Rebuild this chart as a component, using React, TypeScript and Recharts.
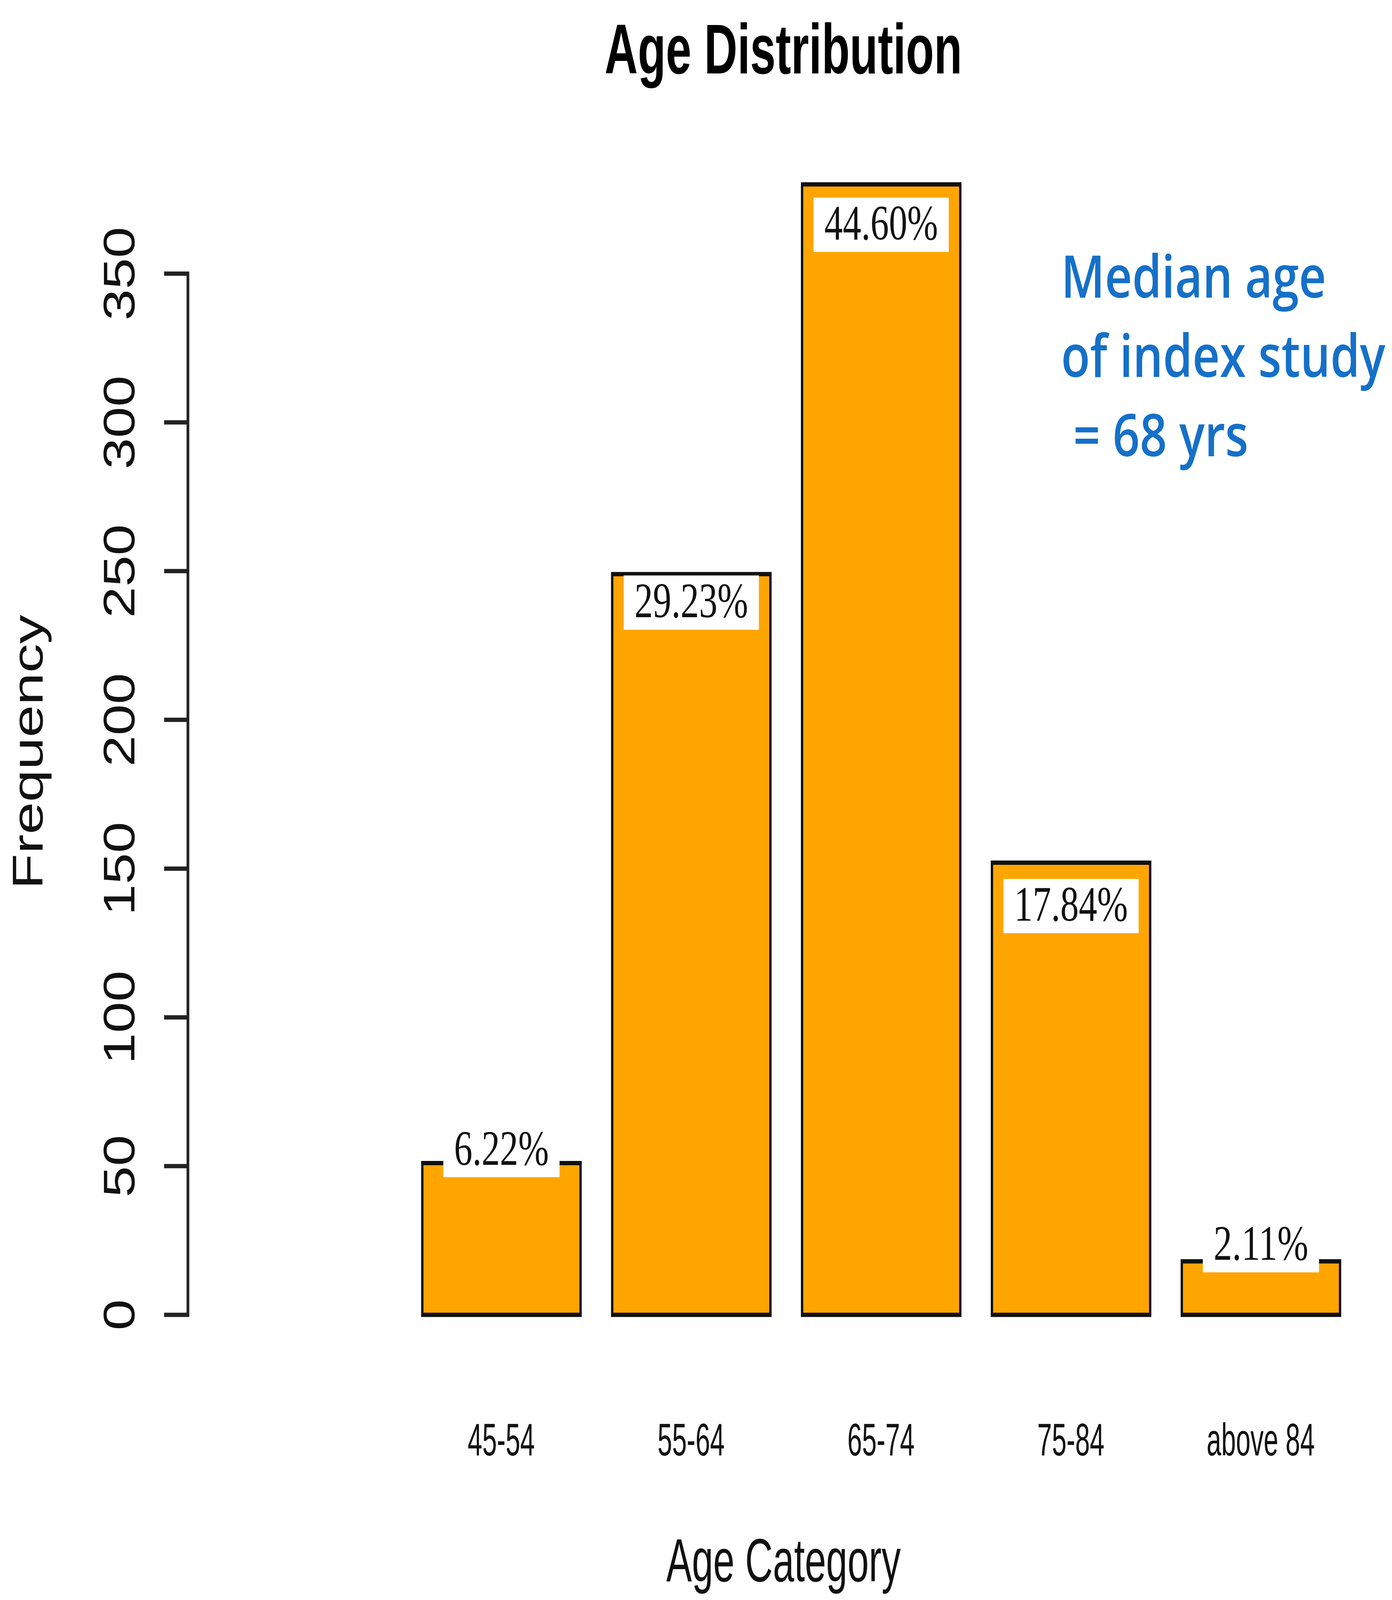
import { Bar, BarChart, Label, LabelList, XAxis, YAxis } from "recharts";

const CATEGORIES = ["45-54", "55-64", "65-74", "75-84", "above 84"];
const FREQUENCY = [51, 249, 380, 152, 18];
const PERCENT_LABELS = ["6.22%", "29.23%", "44.60%", "17.84%", "2.11%"];
// where each percentage box sits, in frequency units (centre of the text)
const LABEL_AT = [56, 240, 367, 138, 24];
const Y_TICKS = [0, 50, 100, 150, 200, 250, 300, 350];
const NOTE_LINES = ["Median age", "of index study", "= 68 yrs"];

const data = CATEGORIES.map((name, i) => ({ name, freq: FREQUENCY[i] }));

const W = 3547;
const H = 4136;
const MARGIN = { top: 464, right: 85, bottom: 0, left: 0 };
const X_AXIS_H = 778;
const PLOT_BOTTOM = H - MARGIN.bottom - X_AXIS_H;
const ORANGE = "#FFA500";
const BLUE = "#1570C8";
const SANS = "'Liberation Sans', Arial, sans-serif";
const SERIF = "'Liberation Serif', 'Times New Roman', serif";

function BarShape(props: any) {
  const { x, y, width, height } = props;
  return (
    <g>
      <rect x={x} y={y} width={width} height={height} fill={ORANGE} />
      <line x1={x - 3} y1={y} x2={x + width + 3} y2={y} stroke="#111" strokeWidth={11} />
      <line x1={x - 3} y1={y + height} x2={x + width + 3} y2={y + height} stroke="#111" strokeWidth={11} />
      <line x1={x} y1={y} x2={x} y2={y + height} stroke="#111" strokeWidth={6} />
      <line x1={x + width} y1={y} x2={x + width} y2={y + height} stroke="#111" strokeWidth={6} />
    </g>
  );
}

function PercentLabel(props: any) {
  const { x, y, width, height, index } = props;
  const text = PERCENT_LABELS[index];
  const cx = x + width / 2;
  const yc = y + height - height * (LABEL_AT[index] / FREQUENCY[index]);
  const tw = 48.5 * text.length;
  const bw = tw + 55;
  return (
    <g>
      <rect x={cx - bw / 2} y={yc - 65} width={bw} height={139} fill="#fff" />
      <text
        x={cx}
        y={yc + 42}
        textAnchor="middle"
        fontFamily={SERIF}
        fontSize={126}
        fill="#111"
        textLength={tw}
        lengthAdjust="spacingAndGlyphs"
      >
        {text}
      </text>
    </g>
  );
}

function XTick(props: any) {
  const { x, y, payload } = props;
  return (
    <g transform={`translate(${x} ${y + 360}) scale(0.575 1)`}>
      <text x={0} y={0} textAnchor="middle" fontFamily={SANS} fontSize={117} fill="#111">
        {payload.value}
      </text>
    </g>
  );
}

function YTick(props: any) {
  const { x, y, payload } = props;
  const label = String(payload.value);
  const tx = x - 137;
  return (
    <g>
      {payload.value === 350 && (
        <line x1={x} y1={y - 5} x2={x} y2={PLOT_BOTTOM + 5} stroke="#222" strokeWidth={7} />
      )}
      <line x1={x - 61} y1={y} x2={x + 3} y2={y} stroke="#222" strokeWidth={11} />
      <text
        x={tx}
        y={y}
        transform={`rotate(-90 ${tx} ${y})`}
        textAnchor="middle"
        fontFamily={SANS}
        fontSize={113}
        fill="#111"
        textLength={label.length * 80}
        lengthAdjust="spacingAndGlyphs"
      >
        {label}
      </text>
    </g>
  );
}

function YTitle(props: any) {
  const { viewBox } = props;
  const tx = viewBox.x + 101;
  const ty = viewBox.y + viewBox.height / 2 + 6;
  return (
    <text
      x={tx}
      y={ty}
      transform={`rotate(-90 ${tx} ${ty})`}
      textAnchor="middle"
      fontFamily={SANS}
      fontSize={110}
      fill="#111"
      textLength={703}
      lengthAdjust="spacingAndGlyphs"
    >
      Frequency
    </text>
  );
}

function XTitle(props: any) {
  const { viewBox } = props;
  return (
    <text
      x={viewBox.x + viewBox.width / 2 + 30}
      y={viewBox.y + 682}
      textAnchor="middle"
      fontFamily={SANS}
      fontSize={155}
      fill="#111"
      textLength={600}
      lengthAdjust="spacingAndGlyphs"
    >
      Age Category
    </text>
  );
}

export default function App() {
  const noteX = [2708, 2708, 2739];
  return (
    <div style={{ position: "relative", width: W, height: H, overflow: "hidden", background: "#fff" }}>
      <BarChart width={W} height={H} data={data} margin={MARGIN}>
        <XAxis
          dataKey="name"
          height={X_AXIS_H}
          padding={{ left: 559, right: 0 }}
          axisLine={false}
          tickLine={false}
          tickSize={0}
          tickMargin={0}
          tick={<XTick />}
          interval={0}
        >
          <Label content={<XTitle />} />
        </XAxis>
        <YAxis
          width={473}
          domain={[0, 380]}
          ticks={Y_TICKS}
          axisLine={false}
          tickLine={false}
          tickSize={0}
          tickMargin={0}
          tick={<YTick />}
          interval={0}
        >
          <Label content={<YTitle />} />
        </YAxis>
        <Bar dataKey="freq" barSize={405} shape={<BarShape />} isAnimationActive={false}>
          <LabelList dataKey="freq" content={<PercentLabel />} />
        </Bar>
      </BarChart>
      <svg
        width={W}
        height={H}
        style={{ position: "absolute", left: 0, top: 0, pointerEvents: "none" }}
      >
        <text
          x={1997}
          y={180}
          textAnchor="middle"
          fontFamily={SANS}
          fontWeight="bold"
          fontSize={180}
          fill="#000"
          textLength={915}
          lengthAdjust="spacingAndGlyphs"
        >
          Age Distribution
        </text>
        {NOTE_LINES.map((line, i) => (
          <g key={line} transform={`translate(${noteX[i]} ${754 + i * 203}) scale(0.81 1)`}>
            <text
              x={0}
              y={0}
              fontFamily="'Open Sans', Lato, sans-serif"
              fontWeight={600}
              fontSize={150}
              fill={BLUE}
            >
              {line}
            </text>
          </g>
        ))}
      </svg>
    </div>
  );
}
